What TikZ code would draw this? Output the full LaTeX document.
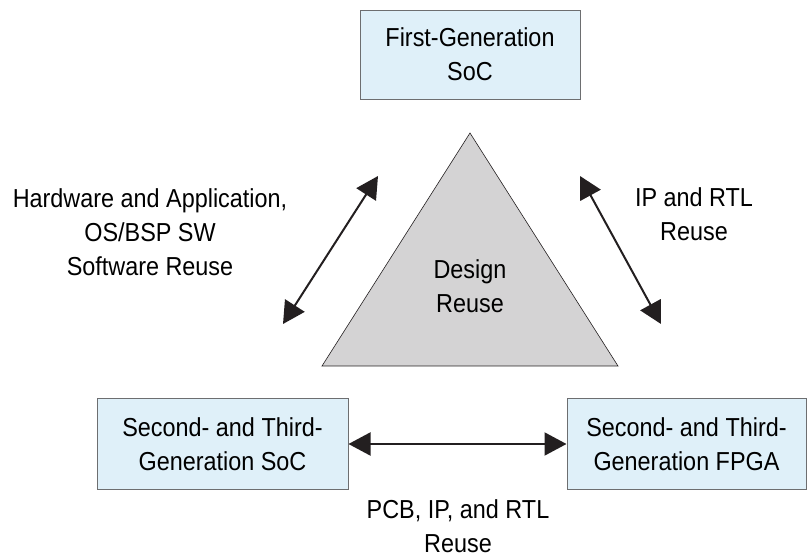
\documentclass[tikz,border=0pt]{standalone}
\usepackage{fontspec}
\setmainfont[FakeStretch=0.9]{Liberation Sans}
\usetikzlibrary{arrows.meta}
\definecolor{boxblue}{HTML}{DFF0F9}
\definecolor{boxline}{HTML}{6D6E70}
\definecolor{trigray}{HTML}{D4D3D4}
\definecolor{ink}{HTML}{231F20}
\tikzset{
  genbox/.style={draw=boxline,line width=1pt,fill=boxblue,inner sep=0pt},
  lbl/.style={align=center,inner sep=0pt,font=\fontsize{26}{34}\selectfont,anchor=base},
  reuse/.style={draw=ink,line width=2pt,{Triangle[length=22pt,width=23pt]}-{Triangle[length=22pt,width=23pt]}}
}
\begin{document}
\begin{tikzpicture}[x=1pt,y=-1pt]
  \useasboundingbox (0,0) rectangle (807,556);
  \node[genbox,minimum width=220pt,minimum height=89pt] (fsoc) at (470,55.5) {};
  \node[genbox,minimum width=251pt,minimum height=90pt] (ssoc) at (222.5,444) {};
  \node[genbox,minimum width=239pt,minimum height=90pt] (sfpga) at (686.5,444) {};
  \node[lbl] at (470,81) {First-Generation\\SoC};
  \node[lbl] at (222.5,471) {Second- and Third-\\Generation SoC};
  \node[lbl] at (686.5,471) {Second- and Third-\\Generation FPGA};
  \coordinate (apex) at (470,133);
  \coordinate (bl) at (322,366);
  \coordinate (br) at (618,366);
  \draw[ink,fill=trigray,line width=0.6pt] (apex) -- (bl) -- (br) -- cycle;
  \node[lbl] (design) at (470,313) {Design\\Reuse};
  \coordinate (la) at (378,176);
  \coordinate (lb) at (283,324);
  \coordinate (ra) at (580,176);
  \coordinate (rb) at (661,324);
  \draw[reuse] (la) -- (lb);
  \draw[reuse] (ra) -- (rb);
  \draw[reuse] (ssoc.east) -- (sfpga.west);
  \node[lbl] (hwsw) at (150,276) {Hardware and Application,\\OS/BSP SW\\Software Reuse};
  \node[lbl] (iprtl) at (694,241) {IP and RTL\\Reuse};
  \node[lbl] (pcb) at (458,552) {PCB, IP, and RTL\\Reuse};
\end{tikzpicture}
\end{document}
